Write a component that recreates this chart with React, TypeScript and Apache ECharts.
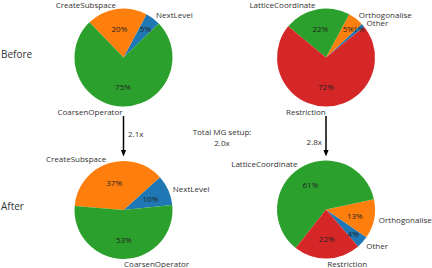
import React, { useEffect, useRef } from "react";
import * as echarts from "echarts";

const FONT = "Open Sans";

const beforeLeftNames = ["NextLevel", "CreateSubspace", "CoarsenOperator"];
const beforeLeftValues = [5, 20, 75];
const afterLeftNames = ["NextLevel", "CreateSubspace", "CoarsenOperator"];
const afterLeftValues = [10, 37, 53];
const beforeRightNames = ["Other", "Orthogonalise", "LatticeCoordinate", "Restriction"];
const beforeRightValues = [1.2, 5.1, 21.9, 71.8];
const afterRightNames = ["Other", "Orthogonalise", "LatticeCoordinate", "Restriction"];
const afterRightValues = [4, 13, 61, 22];

const leftColors = ["#1f77b4", "#ff7f0e", "#2ca02c"];
const rightColors = ["#1f77b4", "#ff7f0e", "#2ca02c", "#d62728"];

const rowTitles = ["Before", "After"];
const speedupLeft = "2.1x";
const speedupRight = "2.8x";
const totalText = "Total MG setup:\n2.0x";

const R = 49;

// percentage labels of small wedges sit further out
const pctBands = [
  { min: 9, max: 101, radius: R * 1.2 - 6 },
  { min: 3, max: 9, radius: 67 },
  { min: 0, max: 3, radius: 81.4 },
];

function pieSeries(
  id: string,
  center: [number, number],
  names: string[],
  values: number[],
  colors: string[],
  startAngle: number
) {
  const total = values.reduce((a, b) => a + b, 0);
  const data = names.map((n, i) => ({
    name: n,
    value: values[i],
    itemStyle: { color: colors[i] },
  }));
  const common = {
    type: "pie",
    center,
    startAngle,
    clockwise: false,
    avoidLabelOverlap: false,
    silent: true,
    minShowLabelAngle: 0,
    itemStyle: { borderWidth: 0 },
    labelLayout: { hideOverlap: false },
  };
  const main = {
    ...common,
    id: id + "-main",
    radius: [0, R],
    label: {
      show: true,
      position: "outside",
      formatter: "{b}",
      fontSize: 8,
      fontFamily: FONT,
      color: "#333",
      distanceToLabelLine: 0,
    },
    labelLine: { show: false, length: R * 0.1, length2: 0 },
    data,
  };
  const pcts = pctBands.map((band, bi) => ({
    ...common,
    id: id + "-pct" + bi,
    radius: [0, band.radius],
    percentPrecision: 0,
    label: {
      show: true,
      position: "inside",
      formatter: "{d}%",
      fontSize: 8,
      fontFamily: FONT,
      color: "#222",
    },
    labelLine: { show: false },
    data: names.map((n, i) => {
      const p = (values[i] / total) * 100;
      return {
        name: n,
        value: values[i],
        itemStyle: { color: "rgba(0,0,0,0)" },
        label: { show: p >= band.min && p < band.max },
      };
    }),
  }));
  return [main, ...pcts];
}

export default function App() {
  const ref = useRef<HTMLDivElement>(null);
  useEffect(() => {
    document.body.style.margin = "0";
    const chart = echarts.init(ref.current!, undefined, { renderer: "svg" });
    const arrow = (x: number) => [
      {
        type: "line",
        shape: { x1: x, y1: 116, x2: x, y2: 152 },
        style: { stroke: "#000", lineWidth: 1.5 },
      },
      {
        type: "polygon",
        shape: { points: [[x - 2.6, 150], [x + 2.6, 150], [x, 156.5]] },
        style: { fill: "#000" },
      },
    ];
    chart.setOption({
      animation: false,
      backgroundColor: "#fff",
      series: [
        ...pieSeries("bl", [123.5, 57.5], beforeLeftNames, beforeLeftValues, leftColors, 44),
        ...pieSeries("br", [326, 57.5], beforeRightNames, beforeRightValues, rightColors, 39),
        ...pieSeries("al", [123.5, 210], afterLeftNames, afterLeftValues, leftColors, 6),
        ...pieSeries("ar", [326, 209.5], afterRightNames, afterRightValues, rightColors, -49),
      ],
      graphic: [
        {
          type: "text",
          x: 1,
          y: 54,
          style: { text: rowTitles[0], fontSize: 10, fontFamily: FONT, fill: "#333", verticalAlign: "middle", align: "left" },
        },
        {
          type: "text",
          x: 1,
          y: 206,
          style: { text: rowTitles[1], fontSize: 10, fontFamily: FONT, fill: "#333", verticalAlign: "middle", align: "left" },
        },
        ...arrow(123.5),
        ...arrow(326),
        {
          type: "text",
          x: 128,
          y: 133,
          style: { text: speedupLeft, fontSize: 8, fontFamily: FONT, fill: "#333", verticalAlign: "middle", align: "left" },
        },
        {
          type: "text",
          x: 322,
          y: 141,
          style: { text: speedupRight, fontSize: 8, fontFamily: FONT, fill: "#333", verticalAlign: "middle", align: "right" },
        },
        {
          type: "text",
          x: 222,
          y: 136.5,
          style: { text: totalText, fontSize: 8, lineHeight: 11, fontFamily: FONT, fill: "#333", verticalAlign: "middle", align: "center" },
        },
      ],
    });
    return () => chart.dispose();
  }, []);
  return <div ref={ref} style={{ position: "fixed", left: 0, top: 0, width: 432, height: 268 }} />;
}
